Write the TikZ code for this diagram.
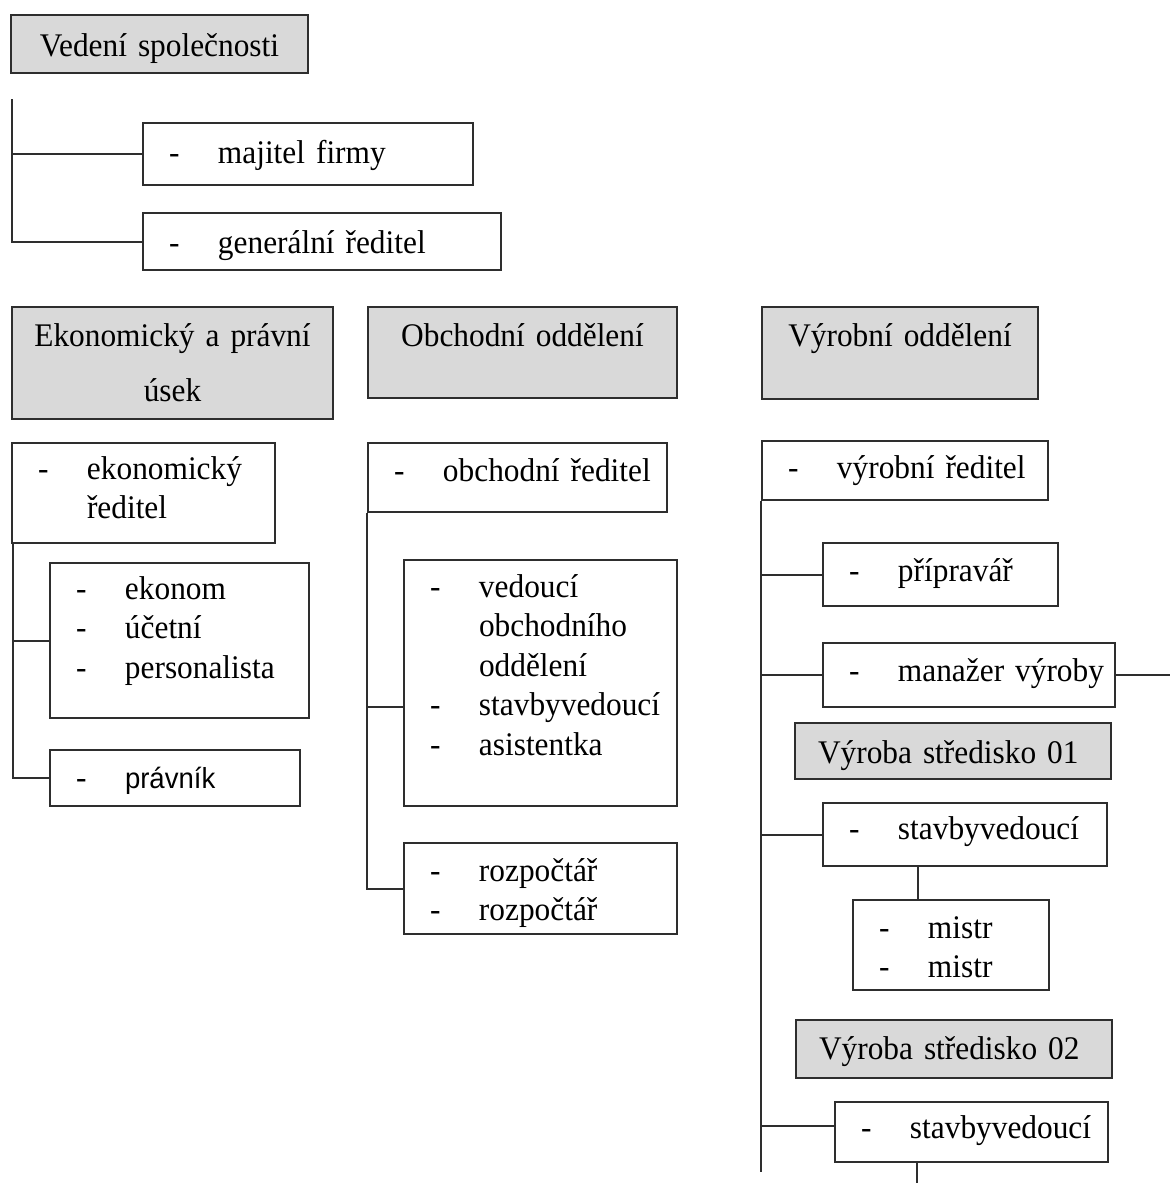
\documentclass[tikz,border=0pt]{standalone}
\usepackage{fontspec}
\setmainfont{Liberation Serif}[FakeStretch=0.95, WordSpace=0.8]
\setsansfont{Liberation Sans}[FakeStretch=0.95]

\definecolor{headgray}{HTML}{D9D9D9}
\definecolor{linegray}{HTML}{2E2E2E}

\newcommand{\dashitem}[1]{\makebox[49pt][l]{-}\mbox{#1}}
\newcommand{\dashcont}[1]{\hspace*{49pt}\mbox{#1}}

\tikzset{
    unit/.style={draw=linegray, line width=2pt, fill=white, anchor=north west,
        inner xsep=26pt, inner ysep=0pt, align=left,
        font=\fontsize{33}{39.5}\selectfont},
    head/.style={unit, fill=headgray, inner xsep=0pt, align=center},
    link/.style={draw=linegray, line width=2pt},
}

\begin{document}
\begin{tikzpicture}[x=1pt, y=-1pt]
    \useasboundingbox (0,0) rectangle (1170,1183);

    % vedeni spolecnosti
    \node[head, text width=297pt, text height=41pt, text depth=17pt] (vedeni) at (10,14) {\mbox{Vedení společnosti}};
    \node[unit, text width=278pt, text height=40pt, text depth=22pt] (majitel) at (142,122) {\dashitem{majitel firmy}};
    \node[unit, text width=306pt, text height=40pt, text depth=17pt] (generalni) at (142,212) {\dashitem{generální ředitel}};

    \coordinate (vtop) at (12,99);
    \draw[link] (vtop) |- (majitel.west);
    \draw[link] (vtop) |- (generalni.west);

    % ekonomicky a pravni usek
    \node[head, text width=321pt, text height=39pt, text depth=73pt,
        font=\fontsize{33}{55}\selectfont] (ekohead) at (11,306) {\mbox{Ekonomický a právní}\\úsek};
    \node[unit, text width=211pt, text height=36pt, text depth=64pt] (ekoreditel) at (11,442)
        {\dashitem{ekonomický}\\\dashcont{ředitel}};
    \node[unit, text width=207pt, text height=36pt, text depth=119pt] (ekonom) at (49,562)
        {\dashitem{ekonom}\\\dashitem{účetní}\\\dashitem{personalista}};
    \node[unit, text width=198pt, text height=38pt, text depth=18pt] (pravnik) at (49,749)
        {\dashitem{\sffamily\fontsize{29}{39.5}\selectfont právník}};

    \draw[link] ([xshift=2pt]ekoreditel.south west) |- (ekonom.west);
    \draw[link] ([xshift=2pt]ekoreditel.south west) |- (pravnik.west);

    % obchodni oddeleni
    \node[head, text width=309pt, text height=39pt, text depth=52pt] (obchead) at (367,306) {\mbox{Obchodní oddělení}};
    \node[unit, text width=247pt, text height=38pt, text depth=31pt] (obcreditel) at (367,442)
        {\dashitem{obchodní ředitel}};
    \node[unit, text width=221pt, text height=37pt, text depth=209pt] (vedouci) at (403,559)
        {\dashitem{vedoucí}\\\dashcont{obchodního}\\\dashcont{oddělení}\\\dashitem{stavbyvedoucí}\\\dashitem{asistentka}};
    \node[unit, text width=221pt, text height=38pt, text depth=53pt] (rozpoctar) at (403,842)
        {\dashitem{rozpočtář}\\\dashitem{rozpočtář}};

    \draw[link] (obcreditel.south west) |- ([yshift=-24pt]vedouci.west);
    \draw[link] (obcreditel.south west) |- (rozpoctar.west);

    % vyrobni oddeleni
    \node[head, text width=276pt, text height=39pt, text depth=53pt] (vyrhead) at (761,306) {\mbox{Výrobní oddělení}};
    \node[unit, text width=234pt, text height=37pt, text depth=22pt] (vyrreditel) at (761,440)
        {\dashitem{výrobní ředitel}};
    \node[unit, text width=183pt, text height=38pt, text depth=25pt] (pripravar) at (822,542)
        {\dashitem{přípravář}};
    \node[unit, text width=240pt, text height=38pt, text depth=26pt] (manazer) at (822,642)
        {\dashitem{manažer výroby}};
    \node[head, align=left, inner xsep=23pt, text width=270pt, text height=40pt, text depth=16pt] (stred1) at (794,722)
        {\mbox{Výroba středisko 01}};
    \node[unit, text width=232pt, text height=36pt, text depth=27pt] (stavby1) at (822,802)
        {\dashitem{stavbyvedoucí}};
    \node[unit, text width=144pt, text height=38pt, text depth=52pt] (mistr) at (852,899)
        {\dashitem{mistr}\\\dashitem{mistr}};
    \node[head, align=left, inner xsep=23pt, text width=270pt, text height=39pt, text depth=19pt] (stred2) at (795,1019)
        {\mbox{Výroba středisko 02}};
    \node[unit, text width=221pt, text height=36pt, text depth=24pt] (stavby2) at (834,1101)
        {\dashitem{stavbyvedoucí}};

    \coordinate (vend) at (761,1172);
    \coordinate (mright) at (1170,671);
    \coordinate (sv2end) at (917,1183);

    \draw[link] (vyrreditel.south west) -- (vend);
    \foreach \n in {pripravar, manazer, stavby1}
    {
        \draw[link] (vyrreditel.south west) |- (\n.west);
    }
    \draw[link] (vyrreditel.south west) |- ([yshift=6pt]stavby2.west);
    \draw[link] (manazer.east) -- (manazer.east -| mright);
    \draw[link] ([xshift=-33pt]mistr.north) -- ([xshift=-33pt]mistr.north |- stavby1.south);
    \draw[link] (sv2end |- stavby2.south) -- (sv2end);
\end{tikzpicture}
\end{document}
